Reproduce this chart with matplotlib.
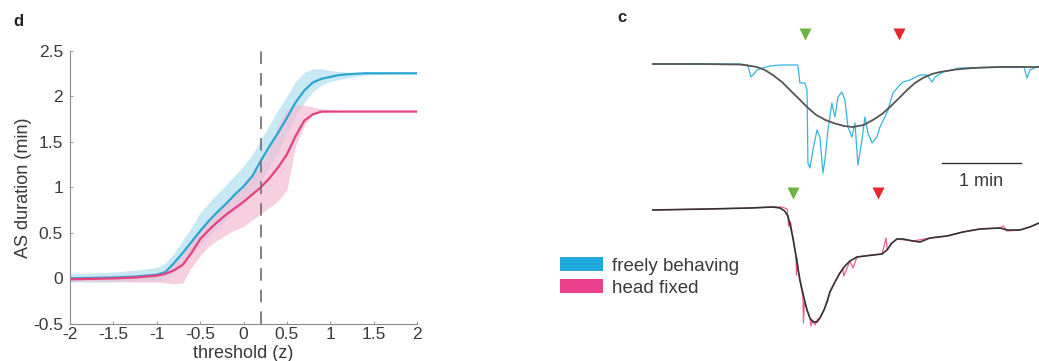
import numpy as np
import matplotlib
matplotlib.use("Agg")
import matplotlib.pyplot as plt
from matplotlib.patches import Patch

plt.rcParams['font.family'] = ['Liberation Sans', 'DejaVu Sans']

# ---------------- panel d data ----------------
thr = [-2, -1.5, -1.25, -1, -0.9, -0.8, -0.7, -0.6, -0.5, -0.4, -0.3, -0.2, -0.1, 0,
       0.1, 0.2, 0.3, 0.4, 0.5, 0.6, 0.7, 0.8, 0.9, 1.0, 1.1, 1.2, 1.4, 1.6, 2.0]
free_mean = [0.0, 0.01, 0.02, 0.04, 0.07, 0.17, 0.28, 0.40, 0.52, 0.63, 0.73, 0.82, 0.92, 1.01,
             1.12, 1.29, 1.45, 1.60, 1.76, 1.93, 2.06, 2.15, 2.19, 2.21, 2.23, 2.24, 2.25, 2.25, 2.25]
free_hi = [0.05, 0.07, 0.09, 0.12, 0.17, 0.28, 0.42, 0.56, 0.72, 0.83, 0.93, 1.03, 1.13, 1.23,
           1.36, 1.52, 1.69, 1.85, 2.00, 2.16, 2.26, 2.30, 2.30, 2.28, 2.27, 2.26, 2.25, 2.25, 2.25]
free_lo = [-0.04, -0.04, -0.03, -0.03, -0.02, 0.05, 0.15, 0.26, 0.36, 0.46, 0.55, 0.64, 0.73, 0.82,
           0.93, 1.07, 1.23, 1.40, 1.58, 1.78, 1.93, 2.05, 2.12, 2.16, 2.18, 2.20, 2.23, 2.24, 2.25]
head_mean = [-0.01, 0.0, 0.01, 0.03, 0.05, 0.09, 0.15, 0.28, 0.43, 0.53, 0.62, 0.70, 0.77, 0.84,
             0.92, 1.00, 1.10, 1.22, 1.36, 1.56, 1.73, 1.80, 1.83, 1.83, 1.83, 1.83, 1.83, 1.83, 1.83]
head_hi = [0.02, 0.03, 0.04, 0.06, 0.09, 0.16, 0.26, 0.40, 0.55, 0.65, 0.75, 0.84, 0.93, 1.02,
           1.12, 1.24, 1.42, 1.68, 1.85, 1.90, 1.90, 1.88, 1.86, 1.85, 1.84, 1.84, 1.83, 1.83, 1.83]
head_lo = [-0.03, -0.03, -0.04, -0.04, -0.05, -0.06, -0.05, 0.12, 0.25, 0.35, 0.42, 0.48, 0.53, 0.57,
           0.64, 0.71, 0.78, 0.85, 0.97, 1.45, 1.68, 1.80, 1.82, 1.83, 1.83, 1.83, 1.83, 1.83, 1.83]
thr_cut = 0.2
xticks = [-2, -1.5, -1, -0.5, 0, 0.5, 1, 1.5, 2]
xticklabels = ['-2', '-1.5', '-1', '-0.5', '0', '0.5', '1', '1.5', '2']
yticks = [-0.5, 0, 0.5, 1, 1.5, 2, 2.5]
yticklabels = ['-0.5', '0', '0.5', '1', '1.5', '2', '2.5']

# ---------------- panel c data (time in s, signal in a.u.) ----------------
fb_t = [0, 36, 66, 72, 74.4, 76.7, 79, 83, 89, 96.5, 104, 110, 111.6, 115.4, 117, 117.7, 119.2,
        121.5, 124.6, 126.8, 129.1, 130.6, 132.9, 135.9, 138.2, 140.5, 143.5, 145.8, 148.1,
        151.1, 153.4, 155.7, 158.7, 161, 163.3, 166.4, 170.1, 172.4, 176.2, 178.5, 182.3,
        186.1, 189.9, 195.2, 202.8, 208.1, 211.9, 214.2, 220.3, 233.2, 263.5, 281.8, 284.1,
        286.3, 293.2]
fb_raw = [0, 0, 0, -0.1, -1.3, -1.0, -0.6, -0.4, -0.2, -0.1, -0.1, -0.1, -1.9, -1.9, -2.6, -9.9,
          -10.4, -8.6, -6.6, -7.3, -10.9, -9.6, -6.6, -3.9, -5.3, -3.3, -2.8, -3.6, -6.3, -7.3,
          -5.9, -10.1, -7.6, -5.3, -6.9, -7.9, -7.3, -6.3, -5.3, -4.6, -2.9, -2.3, -1.8, -1.6,
          -1.1, -1.1, -1.8, -1.3, -0.8, -0.4, -0.3, -0.3, -1.4, -0.6, -0.2]
fb_fit_t = [0, 36, 66, 72, 79, 85, 91, 98, 104, 111, 117, 124, 131, 137, 145, 152, 160, 167,
            174, 180, 187, 193, 199, 205, 212, 218, 230, 243, 263, 293]
fb_fit = [0, 0, -0.05, -0.15, -0.3, -0.6, -1.1, -1.8, -2.6, -3.5, -4.3, -5.1, -5.6, -5.9,
          -6.2, -6.3, -6.1, -5.6, -5.0, -4.3, -3.4, -2.6, -1.9, -1.4, -1.0, -0.8, -0.55, -0.4,
          -0.3, -0.3]
hf_t = [0, 41, 74, 91, 96.5, 100, 102.5, 104, 106.3, 109.4, 111.6, 114.7, 117, 119.2, 121.5,
        124.6, 126.8, 129.9, 132.2, 134.4, 138.2, 142, 145.8, 149.6, 154.9, 161, 167.1, 173.9,
        177.7, 181.5, 185.3, 189.9, 197.5, 202.8, 210.4, 223.3, 235.4, 248.4, 263.5, 268.9,
        278.7, 286.3, 293.2]
hf_fit = [0, 0.1, 0.2, 0.3, 0.2, -0.1, -0.6, -1.4, -2.8, -5.2, -7.0, -8.8, -10.0, -10.8, -11.2,
          -11.2, -10.8, -10.0, -9.2, -8.2, -7.2, -6.3, -5.6, -5.1, -4.7, -4.6, -4.5, -4.4, -4.0,
          -3.3, -2.9, -2.9, -3.1, -3.2, -2.8, -2.6, -2.2, -1.9, -1.8, -2.0, -2.0, -1.7, -1.3]
hf_raw_t = [0, 41, 74, 91, 98, 102, 103, 104.5, 106.3, 108.6, 109, 109.4, 110.2, 111.6, 113.9,
            114.3, 115, 117, 119.2, 120, 121.5, 123, 124.6, 126.8, 129.9, 134.4, 138.2, 142, 144,
            145, 149.6, 152, 154.9, 161, 167.1, 174, 177, 178, 181.5, 185.3, 197.5, 210.4, 223.3,
            235.4, 248.4, 263.5, 266, 268.9, 278.7, 286.3, 293.2]
hf_raw = [0, 0.1, 0.2, 0.3, 0.3, 0.1, -1.6, -1.2, -2.8, -4.5, -6.5, -4.8, -6.0, -7.0, -8.7,
          -11.3, -9.2, -10.0, -10.8, -11.6, -11.0, -11.5, -11.0, -10.8, -10.0, -8.2, -7.2, -6.3,
          -5.9, -6.6, -5.1, -5.8, -4.7, -4.6, -4.5, -4.4, -2.8, -4.0, -3.3, -2.9, -3.1, -2.8,
          -2.6, -2.2, -1.9, -1.8, -1.6, -2.1, -2.0, -1.7, -1.3]
fb_onset_offset = [115.4, 186.8]
hf_onset_offset = [106.3, 170.9]
legend_labels = ['freely behaving', 'head fixed']

BLUE = '#2aa7d0'
PINK = '#e6407f'
TXT = '#3a3a3a'

fig = plt.figure(figsize=(10.39, 3.61), dpi=100)

# ---------------- panel d ----------------
ax = fig.add_axes([70 / 1039, 37 / 361, 347 / 1039, 273.5 / 361])
ax.fill_between(thr, free_lo, free_hi, color='#bfe5f3', alpha=0.85, lw=0)
ax.fill_between(thr, head_lo, head_hi, color='#f5bcd4', alpha=0.7, lw=0)
ax.plot(thr, free_mean, color=BLUE, lw=1.6)
ax.plot(thr, head_mean, color=PINK, lw=1.6)
ax.plot([thr_cut, thr_cut], [-0.5, 2.5], color='#777777', lw=1.3, dashes=(7, 5))
ax.set_xlim(-2, 2)
ax.set_ylim(-0.5, 2.5)
ax.set_xticks(xticks)
ax.set_xticklabels(xticklabels)
ax.set_yticks(yticks)
ax.set_yticklabels(yticklabels)
for s in ['top', 'right']:
    ax.spines[s].set_visible(False)
for s in ['left', 'bottom']:
    ax.spines[s].set_color('#8a8a8a')
    ax.spines[s].set_linewidth(0.8)
ax.tick_params(direction='in', length=2, width=0.6, color='#8a8a8a', labelsize=12.5,
               labelcolor=TXT)
ax.tick_params(axis='x', pad=2)
ax.tick_params(axis='y', pad=5)
ax.set_xlabel('threshold (z)', fontsize=13, color=TXT, labelpad=2)
ax.set_ylabel('AS duration (min)', fontsize=13, color=TXT, labelpad=1)
fig.text(13 / 1039, 1 - 22 / 361, 'd', fontsize=12, fontweight='bold', va='center', color='#222222')

# ---------------- panel c ----------------
ax2 = fig.add_axes([540 / 1039, 0, 499 / 1039, 1])
ax2.set_xlim(-85.8, 293.2)
ax2.set_ylim(-29.7, 6.4)
ax2.axis('off')
off = -14.6
ax2.plot(fb_t, fb_raw, color='#36b4dc', lw=0.9)
ax2.plot(fb_fit_t, fb_fit, color='#555555', lw=1.3)
ax2.plot(hf_raw_t, np.array(hf_raw) + off, color='#ee5a98', lw=0.9)
ax2.plot(hf_t, np.array(hf_fit) + off, color='#333333', lw=1.2)
ax2.plot([fb_onset_offset[0]], [3.0], marker='v', ms=8, color='#6cb33f', mec='none', ls='none')
ax2.plot([fb_onset_offset[1]], [3.0], marker='v', ms=8, color='#e8262b', mec='none', ls='none')
ax2.plot([hf_onset_offset[0]], [off + 1.7], marker='v', ms=8, color='#6cb33f', mec='none', ls='none')
ax2.plot([hf_onset_offset[1]], [off + 1.7], marker='v', ms=8, color='#e8262b', mec='none', ls='none')
# 1 min scale bar
ax2.plot([219.3, 279.3], [-9.9, -9.9], color='#333333', lw=1.0)
ax2.text(249.3, -11.7, '1 min', ha='center', va='center', fontsize=13, color=TXT)
fig.text(617 / 1039, 1 - 18 / 361, 'c', fontsize=12, fontweight='bold', va='center', color='#222222')

handles = [Patch(facecolor='#1fa8dc', edgecolor='none'), Patch(facecolor='#e8408a', edgecolor='none')]
fig.legend(handles, legend_labels, loc='center left', bbox_to_anchor=(543 / 1039, 1 - 277 / 361),
           frameon=False, fontsize=13.5, handlelength=2.3, handleheight=0.75, handletextpad=0.5,
           labelspacing=0.25, labelcolor=TXT)

fig.savefig('out.png', dpi=100)
